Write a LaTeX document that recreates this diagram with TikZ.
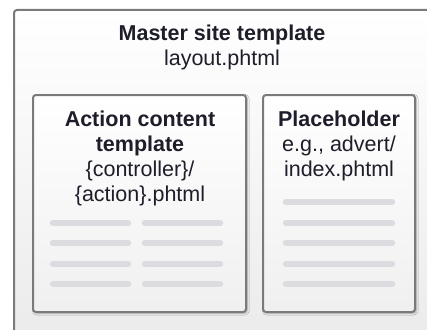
\documentclass[tikz,border=0pt]{standalone}
\usepackage{fontspec}
\setmainfont{Liberation Sans}
\usetikzlibrary{shadows.blur}
\definecolor{txt}{HTML}{1E1E2A}
\definecolor{frame}{HTML}{7A7A7C}
\definecolor{rule}{HTML}{DCDCE0}
\tikzset{
  panel/.style={draw=frame, line width=2pt, rounded corners=3pt},
  innerpanel/.style={panel, top color=white, bottom color=gray!12,
    blur shadow={shadow xshift=1.2pt, shadow yshift=-1.2pt, shadow blur radius=2pt, shadow opacity=35}},
  label/.style={anchor=base, text=txt, font=\fontsize{21.5}{25}\selectfont, align=center, inner sep=0pt},
  boldlabel/.style={label, font=\fontsize{21.5}{25}\selectfont\bfseries},
  textline/.style={rule, line width=6.5pt, line cap=round}
}
\begin{document}
\begin{tikzpicture}[x=1pt, y=-1pt]
\useasboundingbox (0,0) rectangle (427,329);
\clip (0,0) rectangle (427,329);
\fill[white] (0,0) rectangle (427,329);

% master layout frame, runs off the right and bottom edges
\draw[panel, top color=white, bottom color=gray!16] (14,10) rectangle (440,345);
\node[boldlabel] (mastertitle) at (222,40.7) {Master site template};
\node[label] (masterfile) at (222,65.5) {layout.phtml};

% action content template
\draw[innerpanel] (33,95) rectangle (246,312);
\coordinate (action) at (139.5,95);
\node[boldlabel] (actiontitle) at (140,126.7) {Action content};
\node[boldlabel] (actiontitle2) at (140,151.7) {template};
\node[label] (actionfile) at (140,176.7) {\{controller\}/};
\node[label] (actionfile2) at (140,201.7) {\{action\}.phtml};
\foreach \y in {223,243,264,284}{
  \draw[textline] (53,\y) -- (128,\y);
  \draw[textline] (145,\y) -- (220,\y);
}

% placeholder
\draw[innerpanel] (263,95) rectangle (415,312);
\node[boldlabel] (placetitle) at (339,126.7) {Placeholder};
\node[label] (placefile) at (339,151.7) {e.g., advert/};
\node[label] (placefile2) at (339,176.7) {index.phtml};
\foreach \y in {202,223,243,264,284}{
  \draw[textline] (286,\y) -- (392,\y);
}
\end{tikzpicture}
\end{document}
